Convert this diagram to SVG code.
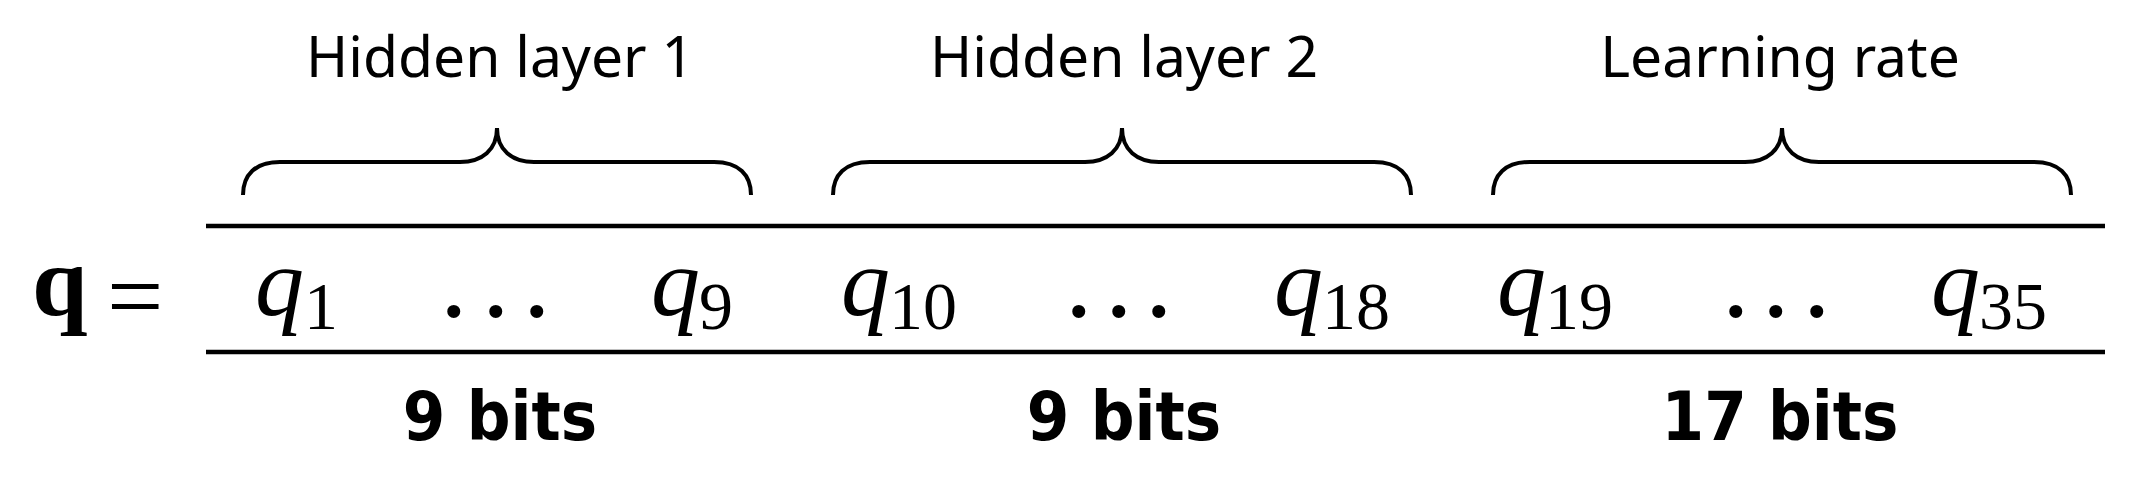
<svg xmlns="http://www.w3.org/2000/svg" width="2139" height="477" viewBox="0 0 2139 477">
<style>
.lbl{font-family:"Noto Sans","Open Sans",sans-serif;font-size:57px;fill:#000;text-anchor:middle}
.bits{font-family:"DejaVu Sans Condensed","DejaVu Sans",sans-serif;font-stretch:condensed;font-weight:bold;font-size:68px;fill:#000;text-anchor:middle}
.mi{font-family:"Liberation Serif",serif;font-style:italic;font-size:98px;fill:#000}
.sub{font-family:"Liberation Serif",serif;font-size:68px;fill:#000}
.rm{font-family:"Liberation Serif",serif;font-size:100px;fill:#000}
.dots{font-family:"Liberation Serif",serif;font-size:110px;fill:#000}
.brace{fill:none;stroke:#000;stroke-width:4;stroke-linecap:butt}
.rule{stroke:#000;stroke-width:4.5}
</style>
<rect width="2139" height="477" fill="#fff"/>
<g id="connectors">
<line class="rule" x1="206" y1="226" x2="2105" y2="226"/>
<line class="rule" x1="206" y1="352" x2="2105" y2="352"/>
</g>
<g id="lhs">
<text class="rm" x="32" y="315" font-weight="bold">q</text>
<text class="rm" x="107" y="330" font-size="127">=</text>
</g>
<g id="group1">
<path class="brace" d="M243,195 C243,175 255,162 280,162 L460,162 C482,162 497,150 497,128 C497,150 512,162 534,162 L714,162 C739,162 751,175 751,195"/>
<text class="lbl" x="500" y="77">Hidden layer 1</text>
<text class="mi" x="255" y="315">q</text><text class="sub" x="304" y="329">1</text>
<text class="dots" x="440 482 523" y="316">...</text>
<text class="mi" x="651" y="315">q</text><text class="sub" x="699" y="329">9</text>
<text class="bits" x="500" y="440">9 bits</text>
</g>
<g id="group2">
<path class="brace" d="M833,195 C833,175 845,162 870,162 L1085,162 C1107,162 1122,150 1122,128 C1122,150 1137,162 1159,162 L1374,162 C1399,162 1411,175 1411,195"/>
<text class="lbl" x="1124" y="77">Hidden layer 2</text>
<text class="mi" x="841" y="315">q</text><text class="sub" x="889" y="329">10</text>
<text class="dots" x="1065 1105 1145" y="316">...</text>
<text class="mi" x="1274" y="315">q</text><text class="sub" x="1322" y="329">18</text>
<text class="bits" x="1124" y="440">9 bits</text>
</g>
<g id="group3">
<path class="brace" d="M1493,195 C1493,175 1505,162 1530,162 L1745,162 C1767,162 1782,150 1782,128 C1782,150 1797,162 1819,162 L2034,162 C2059,162 2071,175 2071,195"/>
<text class="lbl" x="1780" y="77">Learning rate</text>
<text class="mi" x="1497" y="315">q</text><text class="sub" x="1545" y="329">19</text>
<text class="dots" x="1722 1762 1803" y="316">...</text>
<text class="mi" x="1931" y="315">q</text><text class="sub" x="1979" y="329">35</text>
<text class="bits" x="1780" y="440">17 bits</text>
</g>
</svg>
